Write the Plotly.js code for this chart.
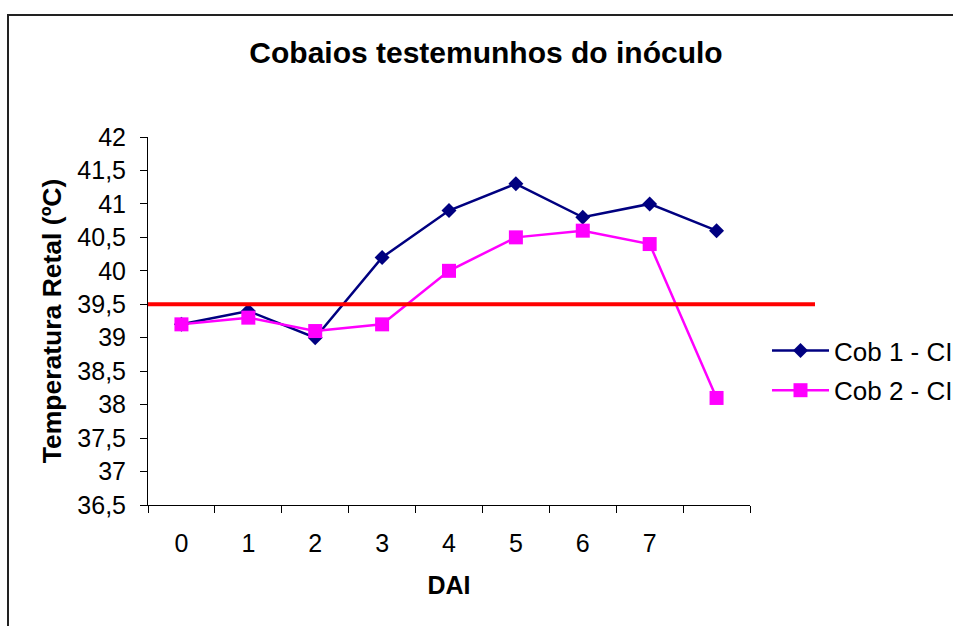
<!DOCTYPE html>
<html>
<head>
<meta charset="utf-8">
<script src="https://cdn.plot.ly/plotly-3.0.1.min.js"></script>
<style>
  html, body { margin: 0; padding: 0; background: #fff; overflow: hidden; }
  #chart { width: 1000px; height: 626px; }
</style>
</head>
<body>
<div id="chart"></div>
<script>
// ---- data ----
const xLabels = ['0', '1', '2', '3', '4', '5', '6', '7', ' '];
const cob1 = [39.2, 39.4, 39.0, 40.2, 40.9, 41.3, 40.8, 41.0, 40.6];
const cob2 = [39.2, 39.3, 39.1, 39.2, 40.0, 40.5, 40.6, 40.4, 38.1];
const seriesNames = ['Cob 1 - CI', 'Cob 2 - CI'];
const threshold = 39.5;
const yMin = 36.5;
const yMax = 42;
const yStep = 0.5;

// ---- layout geometry (figure is wider than the 953px window, which crops it like the reference) ----
const W = 1000, H = 626;
const M = { l: 148, r: 250, t: 137, b: 121 };
const plotW = W - M.l - M.r;
const plotH = H - M.t - M.b;
const px2x = p => (p - M.l) / plotW;
const px2y = p => (H - M.b - p) / plotH;

const fontFam = 'Arial, "Liberation Sans", sans-serif';

const traces = [
  {
    x: xLabels, y: cob1, name: seriesNames[0], type: 'scatter', mode: 'lines+markers',
    legendgroup: 'g1',
    line: { color: '#000080', width: 2.5 },
    marker: { symbol: 'diamond', size: 11.5, color: '#000080' },
    cliponaxis: false
  },
  {
    x: xLabels, y: cob2, name: seriesNames[1], type: 'scatter', mode: 'lines+markers',
    legendgroup: 'g2',
    line: { color: '#FF00FF', width: 2.5 },
    marker: { symbol: 'square', size: 14, color: '#FF00FF' },
    cliponaxis: false
  }
];

const layout = {
  width: W, height: H,
  margin: M,
  paper_bgcolor: '#ffffff',
  plot_bgcolor: '#ffffff',
  separators: ',.',
  font: { family: fontFam, color: '#000000', size: 25 },
  title: {
    text: 'Cobaios testemunhos do inóculo',
    font: { family: fontFam, size: 30, weight: 'bold', color: '#000' },
    xref: 'container', x: 486 / W, xanchor: 'center',
    yref: 'container', y: 1 - 52 / H, yanchor: 'middle'
  },
  xaxis: {
    type: 'category',
    categoryorder: 'array',
    categoryarray: xLabels,
    range: [-0.5, xLabels.length - 0.5],
    tickson: 'boundaries',
    ticks: 'outside', ticklen: 7, tickwidth: 1, tickcolor: '#000',
    showline: true, linecolor: '#000', linewidth: 1,
    showgrid: false, zeroline: false,
    tickfont: { family: fontFam, size: 25, color: '#000' },
    ticklabelstandoff: 16,
    title: { text: 'DAI', font: { family: fontFam, size: 25, weight: 'bold', color: '#000' }, standoff: 20 },
    fixedrange: true
  },
  yaxis: {
    range: [yMin, yMax],
    tick0: yMin, dtick: yStep,
    ticks: 'outside', ticklen: 7, tickwidth: 1, tickcolor: '#000',
    showline: true, linecolor: '#000', linewidth: 1,
    showgrid: false, zeroline: false,
    tickfont: { family: fontFam, size: 25, color: '#000' },
    ticklabelstandoff: 9,
    title: { text: 'Temperatura Retal (ºC)', font: { family: fontFam, size: 26.5, weight: 'bold', color: '#000' }, standoff: 8 },
    fixedrange: true
  },
  showlegend: true,
  legend: {
    x: px2x(767), xanchor: 'left',
    y: px2y(327), yanchor: 'top',
    font: { family: fontFam, size: 26, color: '#000' },
    bgcolor: 'rgba(0,0,0,0)', borderwidth: 0,
    itemwidth: 57,
    traceorder: 'grouped',
    tracegroupgap: 3
  },
  shapes: [
    {
      type: 'line', layer: 'above',
      xref: 'paper', yref: 'y',
      x0: 0, x1: px2x(815),
      y0: threshold, y1: threshold,
      line: { color: '#FF0000', width: 4 }
    },
    {
      type: 'rect', layer: 'below',
      xref: 'paper', yref: 'paper',
      x0: px2x(8), x1: px2x(W + 5),
      y0: px2y(H + 5), y1: px2y(15),
      line: { color: '#222', width: 2 },
      fillcolor: 'rgba(0,0,0,0)'
    }
  ]
};

Plotly.newPlot('chart', traces, layout, { displayModeBar: false, staticPlot: true });
</script>
</body>
</html>
